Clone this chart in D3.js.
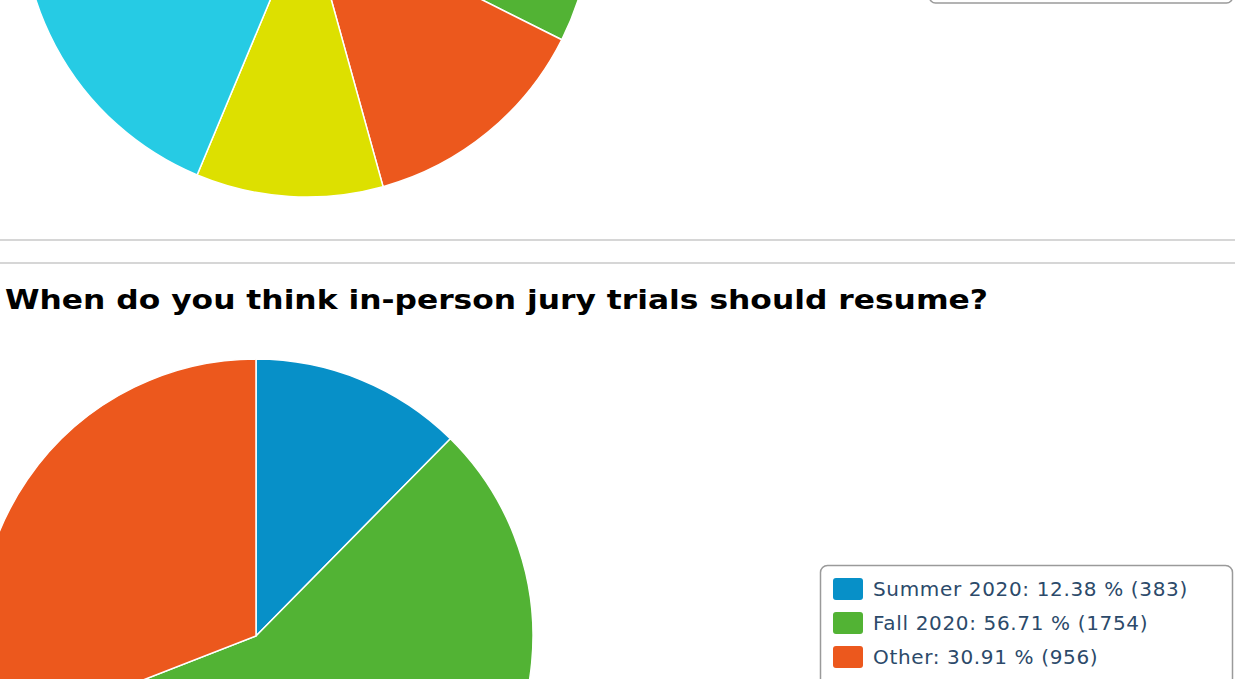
<!DOCTYPE html>
<html>
<head>
<meta charset="utf-8">
<script src="https://cdn.jsdelivr.net/npm/d3@7"></script>
<style>
  html, body { margin: 0; padding: 0; background: #fff; overflow: hidden; }
  svg { display: block; }
</style>
</head>
<body>
<svg id="chart"></svg>
<script>
// upper chart: only its lower part is on screen, legend text is off screen
const topValues = [18, 14.4, 13.3, 10.6, 43.7];
const topColors = ['#0790c8', '#52b334', '#ec581d', '#dde000', '#26cbe4'];

// lower chart
const title = 'When do you think in-person jury trials should resume?';
const categories = ['Summer 2020', 'Fall 2020', 'Other'];
const percents = [12.38, 56.71, 30.91];
const counts = [383, 1754, 956];
const colors = ['#0790c8', '#52b334', '#ec581d'];

const width = 1235;
const height = 679;

const svg = d3.select('#chart')
  .attr('width', width)
  .attr('height', height)
  .attr('viewBox', [0, 0, width, height]);

const pie = d3.pie().sort(null).value((d) => d);

function drawPie(values, fills, cx, cy, r) {
  const arc = d3.arc().innerRadius(0).outerRadius(r);
  svg.append('g')
    .attr('transform', `translate(${cx},${cy})`)
    .selectAll('path')
    .data(pie(values))
    .join('path')
    .attr('d', arc)
    .attr('fill', (d, i) => fills[i])
    .attr('stroke', '#fff')
    .attr('stroke-width', 1.5)
    .attr('stroke-linejoin', 'round');
}

// top pie
drawPie(topValues, topColors, 307, -88, 285);

// top legend box (bottom edge only visible)
svg.append('rect')
  .attr('x', 929.5)
  .attr('y', -200)
  .attr('width', 303)
  .attr('height', 203)
  .attr('rx', 6)
  .attr('fill', 'none')
  .attr('stroke', '#9a9a9a')
  .attr('stroke-width', 1.5);

// separators
[240, 263].forEach((y) => {
  svg.append('line')
    .attr('x1', 0).attr('x2', width)
    .attr('y1', y).attr('y2', y)
    .attr('stroke', '#d6d6d6')
    .attr('stroke-width', 2);
});

// title
svg.append('text')
  .attr('x', 5)
  .attr('y', 309)
  .attr('font-family', 'DejaVu Sans, Verdana, sans-serif')
  .attr('font-weight', 'bold')
  .attr('font-size', 27)
  .attr('fill', '#000')
  .attr('textLength', 983)
  .attr('lengthAdjust', 'spacingAndGlyphs')
  .text(title);

// bottom pie
drawPie(percents, colors, 256, 636, 277);

// legend
const legend = svg.append('g').attr('transform', 'translate(820,565)');
legend.append('rect')
  .attr('x', 0.5)
  .attr('y', 0.5)
  .attr('width', 412)
  .attr('height', 160)
  .attr('rx', 7)
  .attr('fill', '#fff')
  .attr('stroke', '#9a9a9a')
  .attr('stroke-width', 1.5);

const rows = legend.selectAll('g.row')
  .data(categories)
  .join('g')
  .attr('class', 'row')
  .attr('transform', (d, i) => `translate(13,${13 + i * 34})`);

rows.append('rect')
  .attr('width', 30)
  .attr('height', 22)
  .attr('rx', 3)
  .attr('fill', (d, i) => colors[i]);

rows.append('text')
  .attr('x', 40)
  .attr('y', 11)
  .attr('dy', '0.36em')
  .attr('font-family', 'DejaVu Sans, Verdana, sans-serif')
  .attr('font-size', 20)
  .attr('letter-spacing', 0.65)
  .attr('fill', '#2c4a6a')
  .text((d, i) => `${d}: ${percents[i].toFixed(2)} % (${counts[i]})`);
</script>
</body>
</html>
